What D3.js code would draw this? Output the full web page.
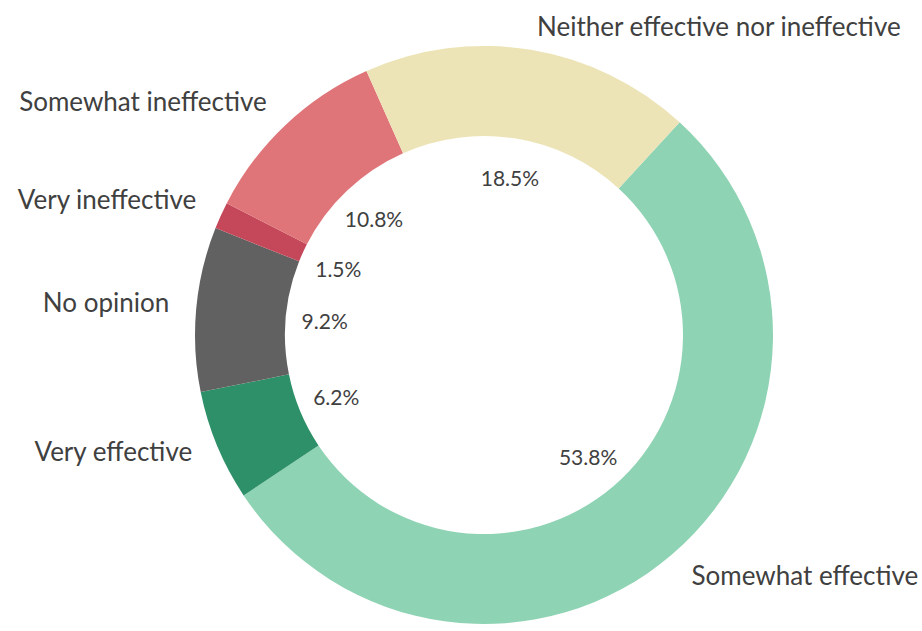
<!DOCTYPE html>
<html><head><meta charset="utf-8">
<script src="https://cdn.jsdelivr.net/npm/d3@7/dist/d3.min.js"></script>
<style>html,body{margin:0;padding:0;background:#fff;}svg{display:block;}</style>
</head><body>
<svg id="chart" width="922" height="631"></svg>
<script>
const categories = ["Somewhat effective","Very effective","No opinion","Very ineffective","Somewhat ineffective","Neither effective nor ineffective"];
const values = [53.8, 6.2, 9.2, 1.5, 10.8, 18.5];
const colors = ["#8ed3b3","#2e9069","#626161","#c44859","#e07579","#ece4b6"];

const svg = d3.select("#chart");
const cx = 484, cy = 335, R = 289, r = 199;
const startDeg = 42.6;
const pie = d3.pie().sort(null).value(d => d.v)
  .startAngle(startDeg*Math.PI/180).endAngle((startDeg+360)*Math.PI/180);
const data = pie(categories.map((c,i)=>({c, v: values[i], col: colors[i]})));
const arc = d3.arc().innerRadius(r).outerRadius(R);
const g = svg.append("g").attr("transform",`translate(${cx},${cy})`);
g.selectAll("path").data(data).join("path")
  .attr("d", arc).attr("fill", d=>d.data.col);

const font = "Lato, 'Source Sans Pro', sans-serif";
const inArc = d3.arc().innerRadius(160).outerRadius(160);
g.selectAll("text.pct").data(data).join("text")
  .attr("class","pct")
  .attr("transform", d=>`translate(${inArc.centroid(d)})`)
  .attr("text-anchor","middle").attr("dominant-baseline","central")
  .style("font-family",font).style("font-size","21px").attr("fill","#404040")
  .text(d=>d.data.v.toFixed(1)+"%");

const outArc = d3.arc().innerRadius(316).outerRadius(316);
const mid = d => ((d.startAngle+d.endAngle)/2)%(2*Math.PI);
const isRight = d => mid(d) < Math.PI;
g.selectAll("text.lab").data(data).join("text")
  .attr("class","lab")
  .attr("transform", d=>`translate(${outArc.centroid(d)})`)
  .attr("dx", d=> isRight(d) ? 2 : 0)
  .attr("dy", d=> isRight(d) ? (mid(d) < Math.PI/2 ? 3 : 0) : -5)
  .attr("text-anchor", d=> isRight(d) ? "start" : "end")
  .attr("dominant-baseline","central")
  .style("font-family",font).style("font-size","26px").attr("fill","#404040")
  .text(d=>d.data.c);
</script>
</body></html>
